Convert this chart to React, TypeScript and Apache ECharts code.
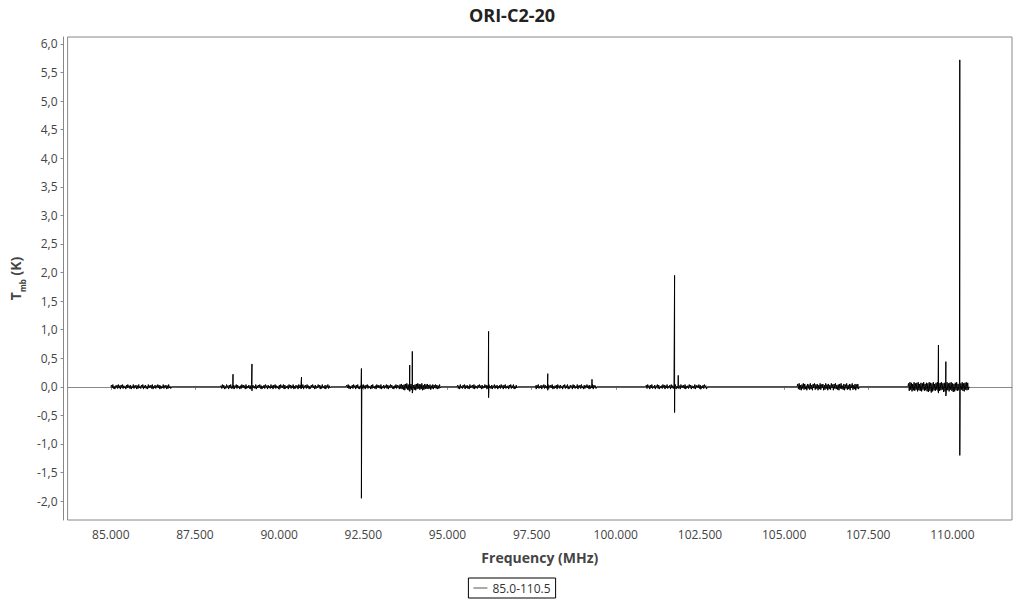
import React, { useEffect, useRef } from "react";
import * as echarts from "echarts";

const title = "ORI-C2-20";
const seriesName = "85.0-110.5";
const xTicks = [85000, 87500, 90000, 92500, 95000, 97500, 100000, 102500, 105000, 107500, 110000];
const yTicks = [-2, -1.5, -1, -0.5, 0, 0.5, 1, 1.5, 2, 2.5, 3, 3.5, 4, 4.5, 5, 5.5, 6];

// segment frequency ranges (MHz)
const segStart = [85000, 88253, 91990, 95282, 97595, 100887, 105385, 108677];
const segEnd = [86800, 91530, 94807, 97082, 99434, 102716, 107232, 110495];

// channel noise values per segment, in units of 0.01 K
const noise1 = [
  0, 3, -2, 4, -3, 1, -4, 2, -1, 3, -3, 4, -2, 2, -4, 3, -1, 4, -3, 2,
  -2, 1, -4, 3, -2, 4, -1, 2, -3, 3, -4, 1, -2, 4, -3, 2, -1, 3, -4, 2,
  -3, 4, -2, 1, -3, 3, -1, 4, -4, 2, -2, 3, -3, 1, -4, 4, -2, 2, -1, 3,
  -3, 4, -4, 1, -2, 3, -3, 2, -1, 4, -2, 3, -4, 2, -3, 1, -2, 4, -3, 2,
  -1, 3, -4, 2, -3, 4, -2, 1, -3, 0,
];
const noise2 = [
  0, 2, -3, 4, -2, 3, -4, 1, -3, 4, -1, 2, -4, 3, -2, 4, -3, 1, -2, 3,
  -4, 2, -1, 4, -3, 3, -2, 1, -4, 2, -3, 4, -1, 3, -2, 2, -4, 4, -3, 1,
  -2, 3, -3, 2, -4, 4, -1, 3, -2, 1, -3, 4, -4, 2, -2, 3, -1, 4, -3, 2,
  -4, 1, -2, 3, -3, 4, -1, 2, -4, 3, -2, 1, -3, 4, -2, 2, -4, 3, -1, 4,
  -3, 2, -2, 1, -4, 3, -3, 4, -1, 2, -2, 4, -4, 3, -3, 1, -2, 2, -4, 4,
  -1, 3, -3, 2, -2, 4, -4, 1, -3, 3, -1, 2, -4, 4, -2, 3, -3, 1, -2, 4,
  -4, 2, -1, 3, -3, 4, -2, 2, -4, 1, -3, 3, -1, 4, -2, 2, -4, 3, -3, 1,
  -2, 4, -1, 3, -4, 2, -3, 4, -2, 1, -3, 3, -4, 2, -1, 4, -3, 2, -2, 0,
];
const noise3 = [
  0, 3, -2, 4, -3, 2, -4, 1, -2, 3, -3, 4, -1, 2, -4, 3, -2, 4, -3, 1,
  -4, 2, -1, 3, -3, 4, -2, 2, -4, 3, -1, 4, -3, 2, -2, 1, -4, 3, -3, 4,
  -2, 1, -3, 2, -4, 4, -1, 3, -2, 2, -3, 4, -4, 1, -2, 3, -3, 2, -1, 4,
  -3, 3, -4, 2, -2, 4, -1, 3, -3, 1, -4, 2, -2, 4, -3, 3, -1, 2, -4, 4,
  -3, 5, -4, 3, -5, 4, -6, 5, -3, 6, -5, 4, -6, 3, -4, 5, -5, 6, -4, 3,
  -5, 4, -6, 5, -4, 6, -3, 5, -5, 4, -4, 6, -6, 3, -5, 5, -4, 4, -3, 5,
  -4, 3, -3, 4, -5, 2, -3, 4, -4, 3, -2, 4, -3, 3, -4, 2, -3, 4, -2, 0,
];
const noise4 = [
  0, 3, -3, 2, -4, 4, -2, 1, -3, 3, -1, 4, -4, 2, -2, 3, -3, 1, -4, 4,
  -2, 2, -1, 3, -3, 4, -4, 2, -2, 1, -3, 3, -1, 4, -2, 2, -4, 3, -3, 1,
  -2, 4, -1, 3, -4, 2, -3, 4, -2, 1, -3, 3, -4, 2, -1, 4, -3, 2, -2, 3,
  -4, 1, -2, 3, -3, 4, -1, 2, -4, 3, -2, 4, -3, 1, -2, 2, -4, 3, -1, 4,
  -3, 2, -2, 4, -4, 1, -3, 3, -2, 0,
];
const noise5 = [
  0, 2, -4, 3, -2, 4, -3, 1, -2, 3, -4, 2, -1, 4, -3, 3, -2, 1, -4, 4,
  -3, 2, -1, 3, -2, 4, -4, 1, -3, 2, -2, 3, -4, 4, -1, 2, -3, 3, -2, 1,
  -4, 3, -1, 4, -3, 2, -2, 4, -4, 1, -3, 3, -1, 2, -4, 4, -2, 3, -3, 1,
  -2, 4, -4, 2, -1, 3, -3, 4, -2, 1, -4, 3, -3, 2, -1, 4, -2, 2, -4, 3,
  -3, 1, -2, 4, -4, 3, -1, 2, -3, 0,
];
const noise6 = [
  0, 3, -3, 4, -1, 2, -4, 3, -2, 4, -3, 1, -2, 3, -4, 2, -1, 4, -3, 3,
  -4, 1, -2, 2, -3, 4, -1, 3, -4, 2, -2, 4, -3, 1, -1, 3, -4, 4, -2, 2,
  -3, 3, -1, 4, -4, 1, -2, 3, -3, 2, -4, 4, -1, 2, -2, 3, -3, 4, -4, 1,
  -2, 2, -3, 4, -1, 3, -4, 2, -2, 1, -3, 4, -4, 3, -1, 2, -2, 4, -3, 3,
  -4, 1, -2, 3, -3, 4, -1, 2, -4, 0,
];
const noise7 = [
  0, 5, -4, 6, -5, 3, -6, 4, -3, 6, -5, 5, -4, 2, -6, 5, -3, 4, -5, 6,
  -4, 3, -6, 5, -2, 6, -5, 4, -3, 5, -6, 3, -4, 6, -5, 4, -2, 5, -6, 3,
  -5, 6, -3, 4, -6, 5, -4, 3, -5, 6, -2, 4, -6, 5, -3, 6, -4, 3, -5, 4,
  -6, 5, -3, 6, -4, 2, -5, 5, -6, 4, -3, 6, -5, 3, -4, 5, -6, 4, -2, 6,
  -5, 3, -4, 5, -6, 4, -3, 5, -4, 0,
];
const noise8 = [
  0, 6, -7, 8, -5, 7, -8, 5, -6, 8, -7, 6, -5, 7, -8, 8, -6, 5, -7, 7,
  -8, 6, -5, 8, -7, 5, -6, 7, -8, 6, -9, 8, -7, 7, -10, 6, -8, 8, -6, 5,
  -7, 7, -5, 8, -8, 6, -7, 7, -6, 8, -5, 6, -9, 7, -8, 5, -7, 8, -6, 6,
  -8, 7, -5, 8, -7, 6, -9, 5, -8, 7, -6, 8, -7, 5, -6, 7, -8, 6, -5, 8,
  -7, 6, -8, 7, -5, 8, -6, 7, -5, 0,
];

// spectral lines: frequency (MHz), peak (K), trough (K)
const lineFreq = [88630, 89193, 90664, 92444, 93879, 93956, 96222, 97980, 99294, 101747, 101856, 109585, 109805, 110219];
const linePeak = [0.22, 0.40, 0.17, 0.32, 0.38, 0.62, 0.97, 0.23, 0.13, 1.95, 0.20, 0.73, 0.44, 5.72];
const lineTrough = [-0.03, -0.07, -0.03, -1.95, -0.08, -0.11, -0.19, -0.06, -0.02, -0.45, -0.03, -0.11, -0.16, -1.20];

const noiseSets = [noise1, noise2, noise3, noise4, noise5, noise6, noise7, noise8];

function buildData(): [number, number][] {
  const pts: [number, number][] = [];
  noiseSets.forEach((arr, s) => {
    const a = segStart[s];
    const b = segEnd[s];
    const segPts: [number, number][] = arr.map((v, i) => [a + (i * (b - a)) / (arr.length - 1), v / 100]);
    lineFreq.forEach((f, k) => {
      if (f >= a && f <= b) {
        segPts.push([f, linePeak[k]]);
        segPts.push([f + 0.001, lineTrough[k]]);
      }
    });
    segPts.sort((p, q) => p[0] - q[0]);
    pts.push(...segPts);
  });
  return pts;
}

const FONT = "'Open Sans', 'Noto Sans', sans-serif";

export default function App() {
  const ref = useRef<HTMLDivElement>(null);
  useEffect(() => {
    if (!ref.current) return;
    const chart = echarts.init(ref.current, undefined, { renderer: "svg" });
    chart.setOption({
      animation: false,
      backgroundColor: "#fff",
      textStyle: { fontFamily: FONT },
      title: {
        text: title,
        left: "center",
        top: 1,
        textStyle: { fontSize: 18, fontWeight: "bold", color: "#222", fontFamily: FONT },
      },
      legend: {
        bottom: 2,
        left: "center",
        data: [seriesName],
        icon: "rect",
        borderColor: "#000",
        borderWidth: 1,
        borderRadius: 0,
        padding: [4, 5, 4, 5],
        itemWidth: 14,
        itemHeight: 1,
        itemGap: 4,
        textStyle: { fontSize: 12, color: "#333", fontFamily: FONT },
      },
      grid: {
        left: 66,
        right: 12,
        top: 37,
        bottom: 80,
        show: true,
        borderColor: "#888",
        borderWidth: 1,
        backgroundColor: "#fff",
      },
      xAxis: {
        type: "value",
        min: 83716,
        max: 111770,
        offset: 4,
        name: "Frequency (MHz)",
        nameLocation: "middle",
        nameGap: 26,
        nameTextStyle: { fontSize: 14, fontWeight: "bold", color: "#444", fontFamily: FONT },
        axisLine: { show: true, lineStyle: { color: "#888", width: 1 } },
        axisTick: { show: true, length: 3, lineStyle: { color: "#888" }, customValues: xTicks },
        axisLabel: {
          fontSize: 12,
          color: "#444",
          margin: 4,
          customValues: xTicks,
          formatter: (v: number) => (v / 1000).toFixed(3),
        },
        splitLine: { show: false },
      },
      yAxis: {
        type: "value",
        min: -2.33,
        max: 6.12,
        offset: 4,
        name: "{b|T}{s|mb}{b| (K)}",
        nameLocation: "middle",
        nameGap: 30,
        nameTextStyle: {
          rich: {
            b: { fontSize: 14, fontWeight: "bold", color: "#444", fontFamily: FONT, lineHeight: 22, verticalAlign: "middle" },
            s: { fontSize: 8, fontWeight: "bold", color: "#444", fontFamily: FONT, lineHeight: 22, verticalAlign: "bottom" },
          },
        },
        axisLine: { show: true, lineStyle: { color: "#888", width: 1 } },
        axisTick: { show: true, length: 3, lineStyle: { color: "#888" }, customValues: yTicks },
        axisLabel: {
          fontSize: 12,
          color: "#444",
          margin: 6,
          customValues: yTicks,
          formatter: (v: number) => v.toFixed(1).replace(".", ","),
        },
        splitLine: { show: false },
      },
      series: [
        {
          name: seriesName,
          type: "line",
          data: buildData(),
          symbol: "none",
          showSymbol: false,
          lineStyle: { color: "#000", width: 1 },
          itemStyle: { color: "#555" },
        },
      ],
    });
    return () => chart.dispose();
  }, []);
  return <div ref={ref} style={{ width: 1024, height: 600, position: "absolute", left: 0, top: 0 }} />;
}
